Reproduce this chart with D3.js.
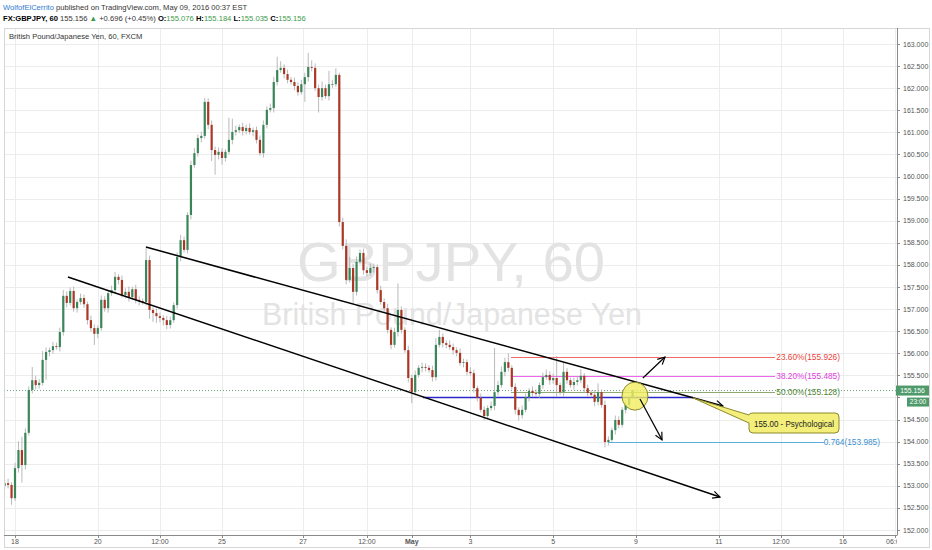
<!DOCTYPE html>
<html><head><meta charset="utf-8">
<script src="https://cdn.jsdelivr.net/npm/d3@7/dist/d3.min.js"></script>
<style>
body{margin:0;background:#fff;}
svg{display:block;font-family:"Liberation Sans",Arial,sans-serif;}
</style>
</head><body>
<svg id="c" width="932" height="550"></svg>
<script>
// ---- DATA (2-hour candles; open = previous close) ----
const firstOpen = 153.00;
const startHour = -6;      // hours relative to Apr 18 00:00 (weekends removed)
const barHours = 2;
const closes = [
153.06,153.02,152.72,153.40,153.81,153.47,154.20,155.17,155.39,155.28,
155.33,155.85,156.03,156.07,156.16,156.14,156.48,157.30,157.14,157.41,
157.02,157.16,157.25,157.11,156.75,156.57,156.44,156.57,157.21,157.02,
157.36,157.43,157.73,157.66,157.32,157.39,157.27,157.45,157.21,157.18,
157.16,158.11,156.98,156.91,156.84,156.80,156.75,156.64,156.75,157.09,
158.18,158.56,158.34,159.13,160.26,160.53,160.87,160.92,161.69,161.17,
160.60,160.49,160.56,160.42,160.56,160.83,161.01,161.05,161.12,161.03,
161.10,161.01,161.05,160.83,160.53,161.17,161.51,161.55,162.14,162.41,
162.46,162.32,162.19,162.14,162.05,161.91,162.09,162.25,162.48,162.46,
162.00,161.80,162.00,161.82,162.09,162.09,162.30,158.97,158.43,157.66,
157.93,157.39,158.07,158.27,157.88,157.82,157.93,157.95,157.43,157.16,
157.02,156.53,156.19,156.48,156.98,156.53,156.07,155.44,155.12,155.51,
155.67,155.69,155.67,155.62,155.46,156.19,156.37,156.23,156.19,156.14,
156.07,156.01,155.78,155.80,155.58,155.55,155.21,154.99,154.72,154.58,
154.76,154.81,155.12,155.28,155.58,155.80,155.67,155.24,154.72,154.60,
154.72,155.01,155.15,155.10,155.08,155.28,155.46,155.51,155.39,155.44,
155.28,155.12,155.58,155.39,155.28,155.35,155.39,155.49,155.21,155.10,
155.06,154.90,155.12,154.83,153.99,154.04,154.26,154.49,154.38,154.72,
154.83,154.99,155.156];
const wickUp = [
0.08,0.10,0.06,0.12,0.20,0.30,0.10,0.08,0.30,0.10,
0.08,0.20,0.10,0.06,0.10,0.08,0.10,0.13,0.10,0.08,
0.10,0.06,0.10,0.08,0.06,0.10,0.08,0.06,0.10,0.08,
0.06,0.10,0.11,0.06,0.10,0.08,0.12,0.06,0.10,0.08,
0.06,0.27,0.10,0.06,0.10,0.08,0.06,0.10,0.08,0.06,
0.10,0.12,0.08,0.06,0.10,0.12,0.08,0.10,0.09,0.08,
0.10,0.08,0.10,0.08,0.06,0.50,0.30,0.10,0.06,0.10,
0.08,0.10,0.06,0.08,0.10,0.10,0.08,0.10,0.12,0.30,
0.15,0.08,0.10,0.06,0.10,0.08,0.10,0.10,0.32,0.15,
0.10,0.08,0.15,0.08,0.30,0.10,0.15,0.05,0.10,0.15,
0.25,0.10,0.12,0.08,0.10,0.08,0.10,0.08,0.06,0.10,
0.08,0.10,0.06,0.10,0.60,0.08,0.06,0.10,0.08,0.10,
0.06,0.10,0.08,0.06,0.10,0.15,0.16,0.08,0.06,0.10,
0.08,0.06,0.10,0.08,0.06,0.10,0.08,0.06,0.10,0.08,
0.06,0.10,1.00,0.10,0.12,0.10,0.20,0.06,0.08,0.06,
0.10,0.08,0.06,0.10,0.08,0.06,0.10,0.12,0.08,0.10,
0.50,0.06,0.20,0.08,0.06,0.10,0.08,0.15,0.06,0.08,
0.06,0.10,0.20,0.06,0.10,0.08,0.06,0.10,0.08,0.06,
0.08,0.06,0.03];
const wickDown = [
0.10,0.08,0.15,0.06,0.10,0.40,0.10,0.06,0.08,0.10,
0.08,0.06,0.45,0.10,0.08,0.06,0.10,0.08,0.10,0.06,
0.08,0.10,0.06,0.08,0.10,0.08,0.25,0.10,0.06,0.08,
0.10,0.06,0.08,0.10,0.06,0.08,0.10,0.06,0.08,0.10,
0.06,0.08,0.20,0.20,0.15,0.10,0.12,0.10,0.08,0.06,
0.08,0.10,0.06,0.08,0.10,0.06,0.08,0.10,0.06,0.10,
0.25,0.45,0.10,0.15,0.08,0.06,0.10,0.08,0.06,0.10,
0.08,0.06,0.10,0.08,0.06,0.10,0.08,0.06,0.10,0.08,
0.06,0.10,0.08,0.06,0.10,0.08,0.06,0.40,0.10,0.08,
0.06,0.35,0.08,0.06,0.10,0.08,0.06,0.10,0.08,0.10,
0.06,0.25,0.08,0.06,0.10,0.08,0.06,0.10,0.08,0.06,
0.10,0.08,0.10,0.06,0.10,0.08,0.06,0.10,0.25,0.08,
0.06,0.10,0.08,0.06,0.10,0.08,0.06,0.10,0.08,0.06,
0.10,0.08,0.06,0.10,0.08,0.06,0.10,0.08,0.06,0.10,
0.08,0.06,0.10,0.08,0.06,0.10,0.08,0.06,0.10,0.12,
0.08,0.06,0.10,0.08,0.06,0.10,0.08,0.06,0.10,0.08,
0.25,0.06,0.10,0.08,0.06,0.10,0.08,0.06,0.10,0.08,
0.06,0.10,0.08,0.06,0.12,0.08,0.06,0.10,0.08,0.06,
0.08,0.06,0.03];

const priceTicks = [152,152.5,153,153.5,154,154.5,155,155.5,156,156.5,157,157.5,158,158.5,159,159.5,160,160.5,161,161.5,162,162.5,163];
const timeTickHours = [0,48,84,120,167,204,230,264,312,360,408,444,480,510];
const timeTickLabels = ["18","20","12:00","25","27","12:00","May","3","5","9","11","12:00","16","06:00"];

const fibPrices = [155.926,155.485,155.128,153.985];
const fibLabels = ["23.60%(155.926)","38.20%(155.485)","50.00%(155.128)","0.764(153.985)"];
const lastPrice = 155.156;
const lastTimeLabel = "23:00";

// drawings (hour, price)
const upperChannel = [[75.9,158.405],[410.4,154.806]];
const lowerChannel = [[30.7,157.726],[408.7,152.746]];
const levelLine = [[236.5,155.00],[393,155.00]];
const arrowUp = [[364,155.44],[376.8,155.915]];
const arrowDown = [[362.3,154.965],[375.1,154.04]];
const ellipseAt = [359.4,155.03];
const calloutTip = [393,154.99];
const calloutText = "155.00 - Psychological";

// ---- STYLE / LAYOUT ----
const L = 4, R = 897, T = 28, B = 535;
const svg = d3.select("#c");
const x = d3.scaleLinear().domain([0,360]).range([15,636]);
const y = d3.scaleLinear().domain([152,163]).range([530,44]);

svg.append("rect").attr("x",0).attr("y",0).attr("width",932).attr("height",550).attr("fill","#fff");
svg.append("rect").attr("x",L+0.5).attr("y",T+0.5).attr("width",929-L).attr("height",547-T)
  .attr("fill","none").attr("stroke","#d6d6d6");

const defs = svg.append("defs");
defs.append("clipPath").attr("id","plot").append("rect").attr("x",L+1).attr("y",T+1).attr("width",R-L-1).attr("height",B-T-1);
defs.append("clipPath").attr("id","xax").append("rect").attr("x",L).attr("y",B).attr("width",R-L).attr("height",14);
defs.append("marker").attr("id","ah").attr("viewBox","0 0 10 10").attr("refX",9).attr("refY",5)
  .attr("markerWidth",9).attr("markerHeight",9).attr("markerUnits","userSpaceOnUse").attr("orient","auto")
  .append("path").attr("d","M1,1 L9,5 L1,9").attr("fill","none").attr("stroke","#000").attr("stroke-width",1.3);

const plot = svg.append("g").attr("clip-path","url(#plot)");

// grid
plot.append("g").selectAll("line").data(priceTicks).join("line")
  .attr("x1",L).attr("x2",R).attr("y1",d=>Math.round(y(d))+0.5).attr("y2",d=>Math.round(y(d))+0.5)
  .attr("stroke","#ececec");
plot.append("g").selectAll("line").data(timeTickHours).join("line")
  .attr("y1",T).attr("y2",B).attr("x1",d=>Math.round(x(d))+0.5).attr("x2",d=>Math.round(x(d))+0.5)
  .attr("stroke","#ececec");

// watermark
plot.append("text").attr("x",451).attr("y",281).attr("text-anchor","middle")
  .attr("font-size",56).attr("fill","#e3e3e3").attr("textLength",308).attr("lengthAdjust","spacingAndGlyphs")
  .text("GBPJPY, 60");
plot.append("text").attr("x",452).attr("y",325).attr("text-anchor","middle")
  .attr("font-size",31).attr("fill","#e3e3e3").attr("textLength",380).attr("lengthAdjust","spacingAndGlyphs")
  .text("British Pound/Japanese Yen");

// current price dotted line
plot.append("line").attr("x1",L).attr("x2",R).attr("y1",y(lastPrice)).attr("y2",y(lastPrice))
  .attr("stroke","#6aa07a").attr("stroke-dasharray","1,2");

// fib lines
const fibColors = ["#f06a6a","#ee66ee","#8fa874","#5aaee0"];
const fibTextColors = ["#e8443a","#e040e0","#4f8534","#3a8fd0"];
const fibStart = [287.5,287.5,287.5,343.8];
const fibEnd = [440.6,440.6,440.6,469];
fibPrices.forEach((p,i)=>{
  plot.append("line").attr("x1",x(fibStart[i])).attr("x2",x(fibEnd[i]))
    .attr("y1",Math.round(y(p))+0.5).attr("y2",Math.round(y(p))+0.5)
    .attr("stroke",fibColors[i]).attr("stroke-width",1);
});
// blue 155.00 level
plot.append("line").attr("x1",x(levelLine[0][0])).attr("x2",x(levelLine[1][0]))
  .attr("y1",y(levelLine[0][1])).attr("y2",y(levelLine[1][1]))
  .attr("stroke","#2a2acc").attr("stroke-width",1.6);

// candles
const candles = closes.map((c,i)=>{
  const o = i===0 ? firstOpen : closes[i-1];
  return {t:startHour+i*barHours,o,c,h:Math.max(o,c)+wickUp[i],l:Math.min(o,c)-wickDown[i]};
});
const cg = plot.append("g");
cg.selectAll("line").data(candles).join("line")
  .attr("x1",d=>x(d.t)).attr("x2",d=>x(d.t)).attr("y1",d=>y(d.h)).attr("y2",d=>y(d.l))
  .attr("stroke","#a8a8a8").attr("stroke-width",0.8);
cg.selectAll("rect").data(candles).join("rect")
  .attr("x",d=>x(d.t)-1.1).attr("width",2.2)
  .attr("y",d=>y(Math.max(d.o,d.c)))
  .attr("height",d=>Math.max(0.8,y(Math.min(d.o,d.c))-y(Math.max(d.o,d.c))))
  .attr("fill",d=>d.c>=d.o?"#3a865a":"#ab3826");

// channel lines
[upperChannel,lowerChannel].forEach(seg=>{
  plot.append("line").attr("x1",x(seg[0][0])).attr("y1",y(seg[0][1]))
    .attr("x2",x(seg[1][0])).attr("y2",y(seg[1][1]))
    .attr("stroke","#000").attr("stroke-width",1.5).attr("marker-end","url(#ah)");
});

// callout
const tx = x(calloutTip[0]), ty = y(calloutTip[1]);
const bx0 = 749, bx1 = 839, by0 = 413, by1 = 433;
plot.append("path")
  .attr("d",`M${bx0+4},${by0} H${bx1-4} Q${bx1},${by0} ${bx1},${by0+4} V${by1-4} Q${bx1},${by1} ${bx1-4},${by1} H${bx0+4} Q${bx0},${by1} ${bx0},${by1-4} V${by0+10} L${tx},${ty} L${bx0},${by0+2} Q${bx0},${by0} ${bx0+4},${by0} Z`)
  .attr("fill","#f3ef7a").attr("stroke","#8c8a2a").attr("stroke-width",1);
plot.append("text").attr("x",(bx0+bx1)/2).attr("y",by0+13.5).attr("text-anchor","middle")
  .attr("font-size",8.6).attr("fill","#222").attr("textLength",80).attr("lengthAdjust","spacingAndGlyphs")
  .text(calloutText);

// ellipse
plot.append("ellipse").attr("cx",x(ellipseAt[0])).attr("cy",y(ellipseAt[1])).attr("rx",13).attr("ry",14)
  .attr("fill","#f1ee60").attr("fill-opacity",0.8).attr("stroke","#8c8a2a").attr("stroke-width",1);

// arrows
[arrowUp,arrowDown].forEach(seg=>{
  plot.append("line").attr("x1",x(seg[0][0])).attr("y1",y(seg[0][1]))
    .attr("x2",x(seg[1][0])).attr("y2",y(seg[1][1]))
    .attr("stroke","#000").attr("stroke-width",1.2).attr("marker-end","url(#ah)");
});

// fib labels
const fibLabelEnd = [840,840,840,880];
fibLabels.forEach((t,i)=>{
  plot.append("text").attr("x",fibLabelEnd[i]).attr("y",y(fibPrices[i])+3).attr("text-anchor","end")
    .attr("font-size",8.3).attr("fill",fibTextColors[i]).text(t);
});

// axes
const lp = y(lastPrice);
svg.append("line").attr("x1",R+0.5).attr("x2",R+0.5).attr("y1",T).attr("y2",B+0.5).attr("stroke","#8a8a8a");
svg.append("line").attr("x1",L).attr("x2",R).attr("y1",B+0.5).attr("y2",B+0.5).attr("stroke","#8a8a8a");
const ya = svg.append("g");
ya.selectAll("line").data(priceTicks).join("line")
  .attr("x1",R).attr("x2",R+3).attr("y1",d=>Math.round(y(d))+0.5).attr("y2",d=>Math.round(y(d))+0.5).attr("stroke","#8a8a8a");
// labels hidden under the last-price badges are not drawn (as on the original)
ya.selectAll("text").data(priceTicks.filter(d=>Math.abs(y(d)-lp)>12)).join("text")
  .attr("x",903).attr("y",d=>y(d)+2.5).attr("font-size",7).attr("fill","#555")
  .text(d=>d3.format(".3f")(d));
const xa = svg.append("g").attr("clip-path","url(#xax)");
xa.selectAll("line").data(timeTickHours).join("line")
  .attr("x1",d=>Math.round(x(d))+0.5).attr("x2",d=>Math.round(x(d))+0.5).attr("y1",B).attr("y2",B+3).attr("stroke","#8a8a8a");
xa.selectAll("text").data(timeTickHours).join("text")
  .attr("x",d=>x(d)).attr("y",543.5).attr("text-anchor","middle").attr("font-size",7).attr("fill","#555")
  .attr("font-weight",(d,i)=>timeTickLabels[i]==="May"?"bold":"normal")
  .text((d,i)=>timeTickLabels[i]);

// last price labels
svg.append("rect").attr("x",896).attr("y",lp-5).attr("width",33).attr("height",10).attr("fill","#4f9a6a");
svg.append("text").attr("x",912.5).attr("y",lp+2.4).attr("text-anchor","middle").attr("font-size",6.8).attr("fill","#fff").text(d3.format(".3f")(lastPrice));
svg.append("rect").attr("x",907).attr("y",lp+7).attr("width",22).attr("height",9).attr("fill","#4f9a6a");
svg.append("text").attr("x",918).attr("y",lp+13.8).attr("text-anchor","middle").attr("font-size",6.5).attr("fill","#fff").text(lastTimeLabel);

// header
const h1 = svg.append("text").attr("x",3).attr("y",9.5).attr("font-size",7.6).attr("fill","#333");
h1.append("tspan").attr("fill","#2f7ad0").text("WolfofElCerrito");
h1.append("tspan").text(" published on TradingView.com, May 09, 2016 00:37 EST");
const h2 = svg.append("text").attr("x",3).attr("y",21).attr("font-size",7.6).attr("fill","#333");
const green = "#3a9a4a";
[["FX:GBPJPY, 60 ","#000","bold"],["155.156 ","#333","normal"],["▲","#3a9a4a","normal"],[" +0.696 (+0.45%) ","#333","normal"],
 ["O:","#000","bold"],["155.076 ",green,"normal"],["H:","#000","bold"],["155.184 ",green,"normal"],
 ["L:","#000","bold"],["155.035 ",green,"normal"],["C:","#000","bold"],["155.156",green,"normal"]]
 .forEach(s=>h2.append("tspan").attr("fill",s[1]).attr("font-weight",s[2]).text(s[0]));
svg.append("text").attr("x",9).attr("y",39).attr("font-size",7.6).attr("fill","#333")
  .text("British Pound/Japanese Yen, 60, FXCM");
</script>
</body></html>
